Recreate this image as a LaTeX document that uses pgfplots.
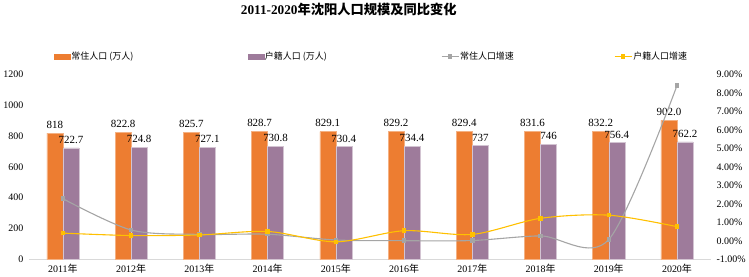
\documentclass[border=0pt]{standalone}
\usepackage{pgfplots}
\usepackage{pgfplotstable}
\pgfplotsset{compat=1.18}
\usepackage{fontspec}
\setmainfont{Liberation Serif}
\newfontfamily\cjk{Noto Sans CJK SC}
\definecolor{cOr}{HTML}{ED7D31}
\definecolor{cPu}{HTML}{9E7B9B}
\definecolor{cGr}{HTML}{A5A5A5}
\definecolor{cYe}{HTML}{FFC000}

\pgfplotstableread{
x chang huji clab hlab
0 818   722.7 818   722.7
1 822.8 724.8 822.8 724.8
2 825.7 727.1 825.7 727.1
3 828.7 730.8 828.7 730.8
4 829.1 730.4 829.1 730.4
5 829.2 734.4 829.2 734.4
6 829.4 737   829.4 737
7 831.6 746   831.6 746
8 832.2 756.4 832.2 756.4
9 902.0 762.2 902.0 762.2
}\popdata

\pgfplotstableread{
x gr ye
0 2.28 0.42
1 0.59 0.29
2 0.35 0.32
3 0.36 0.51
4 0.05 -0.05
5 0.01 0.55
6 0.02 0.35
7 0.27 1.22
8 0.07 1.39
9 8.39 0.77
}\ratedata

\begin{document}
\begin{tikzpicture}
\begin{axis}[
  scale only axis, width=682bp, height=185bp,
  xmin=-0.5, xmax=9.5, ymin=0, ymax=1200,
  ybar=0pt, bar width=16bp,
  axis x line*=bottom, axis y line*=left,
  y axis line style={draw=none},
  x axis line style={draw=black!15, line width=0.8bp},
  major tick length=0pt,
  xtick={0,...,9},
  xticklabels={2011{\cjk 年},2012{\cjk 年},2013{\cjk 年},2014{\cjk 年},2015{\cjk 年},2016{\cjk 年},2017{\cjk 年},2018{\cjk 年},2019{\cjk 年},2020{\cjk 年}},
  ytick={0,200,...,1200},
  /pgf/number format/assume math mode=true,
  /pgf/number format/1000 sep={},
  tick label style={font=\fontsize{10}{12}\selectfont, black},
  yticklabel style={xshift=-2bp},
  xticklabel style={yshift=-1bp},
  nodes near coords,
  point meta=explicit symbolic,
  every node near coord/.append style={font=\fontsize{11}{13}\selectfont, black, yshift=1bp},
]
\addplot[fill=cOr, draw=cOr!60!white, line width=0.5bp] table[x=x, y=chang, meta=clab] {\popdata};
\addplot[fill=cPu, draw=cPu!45!white, line width=0.5bp] table[x=x, y=huji, meta=hlab] {\popdata};
\coordinate (T) at (rel axis cs:0.469,1.349);
\end{axis}
\node[font=\bfseries\fontsize{13.3}{16}\selectfont] at (T) {2011-2020{\cjk 年沈阳人口规模及同比变化}};
\begin{axis}[
  scale only axis, width=682bp, height=185bp,
  xmin=-0.5, xmax=9.5, ymin=-1, ymax=9,
  axis y line*=right, axis x line=none,
  y axis line style={draw=none},
  major tick length=0pt,
  ytick={-1,0,...,9},
  yticklabel={\pgfmathprintnumber[fixed,fixed zerofill,precision=2]{\tick}\%},
  /pgf/number format/assume math mode=true,
  tick label style={font=\fontsize{10}{12}\selectfont, black},
  yticklabel style={xshift=2bp},
  legend columns=4,
  legend style={at={(0.0367,1.097)}, anchor=west, draw=none, fill=none,
    inner xsep=0pt, inner ysep=0pt,
    nodes={inner sep=1bp},
    font=\fontsize{9}{11}\selectfont\cjk,
    /tikz/every odd column/.append style={column sep=0pt},
    /tikz/every even column/.append style={column sep=0pt}},
]
\addlegendimage{legend image code/.code={\fill[cOr] (0bp,-2.5bp) rectangle (16bp,2.5bp);}}
\addlegendentry{\makebox[175bp][l]{常住人口 (万人)}}
\addlegendimage{legend image code/.code={\fill[cPu] (0bp,-2.5bp) rectangle (16bp,2.5bp);}}
\addlegendentry{\makebox[175bp][l]{户籍人口 (万人)}}
\addplot[color=cGr, line width=1.1bp, smooth, mark=square*, mark size=1.7bp, mark options={fill=cGr}] table[x=x, y=gr] {\ratedata};
\addlegendentry{\makebox[153bp][l]{常住人口增速}}
\addplot[color=cYe, line width=1.1bp, smooth, mark=square*, mark size=1.7bp, mark options={fill=cYe}] table[x=x, y=ye] {\ratedata};
\addlegendentry{户籍人口增速}
\end{axis}
\end{tikzpicture}
\end{document}
